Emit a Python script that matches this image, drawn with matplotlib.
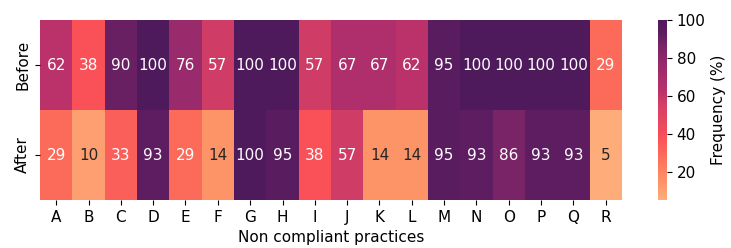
import numpy as np
import pandas as pd
import seaborn as sns
import matplotlib.pyplot as plt
from matplotlib.colors import LinearSegmentedColormap

practices = list("ABCDEFGHIJKLMNOPQR")
rows = ["Before", "After"]
before = [62, 38, 90, 100, 76, 57, 100, 100, 57, 67, 67, 62, 95, 100, 100, 100, 100, 29]
after = [29, 10, 33, 93, 29, 14, 100, 95, 38, 57, 14, 14, 95, 93, 86, 93, 93, 5]

df = pd.DataFrame([before, after], index=rows, columns=practices)

# colour ramp (value -> colour), from 5 to 100
ramp_vals = [5, 14, 29, 38, 57, 62, 76, 86, 93, 100]
ramp_cols = ["#fdac7a", "#fd9468", "#fc6a5a", "#fa5058", "#d03c66",
             "#bb326a", "#992a6c", "#7a2466", "#5e1d60", "#4e1a5c"]
vmin, vmax = 5, 100
stops = [(v - vmin) / (vmax - vmin) for v in ramp_vals]
cmap = LinearSegmentedColormap.from_list("ref", list(zip(stops, ramp_cols)))

fig = plt.figure(figsize=(7.31, 2.48), dpi=100)
ax = fig.add_axes([40/731, 1-200/248, (622-40)/731, 180/248])
cax = fig.add_axes([658/731, 1-200/248, 9/731, 180/248])

sns.heatmap(df, ax=ax, cbar_ax=cax, cmap=cmap, vmin=vmin, vmax=vmax,
            annot=True, fmt="d", annot_kws={"fontsize": 11})
ax.set_xlabel("Non compliant practices", fontsize=11)
ax.tick_params(axis="both", labelsize=11)
ax.set_yticklabels(rows, rotation=90, va="center", fontsize=11)
cax.tick_params(labelsize=11)
cax.set_ylabel("Frequency (%)", fontsize=11)

fig.savefig("out.png", dpi=100)
